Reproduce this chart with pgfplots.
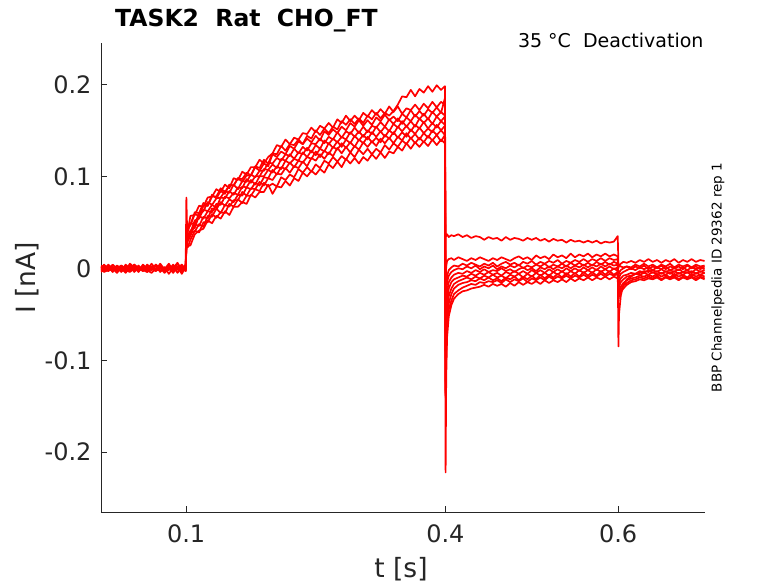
\documentclass[border=0pt]{standalone}
\usepackage{fontspec}
\setmainfont{DejaVu Sans}
\usepackage{pgfplots}
\usepackage{pgfplotstable}
\pgfplotsset{compat=1.18}
\definecolor{mtext}{RGB}{38,38,38}
\definecolor{mred}{RGB}{255,0,0}
\tikzset{trace/.style={mred, solid, line width=1.7pt, line join=round, mark=none}}
% t in ms, currents in pA
\pgfplotstableread{
t T1 T2 T3 T4 T5 T6 T7 T8 T9 T10
1.5 2 -1 -3 1 3 -4 0 2 -2 -1
5 -2 3 0 -3 1 -1 4 -2 1 -4
10 1 -2 2 4 -1 -3 -1 0 3 -2
15 -3 0 -4 -1 4 0 2 -3 -1 1
20 3 2 1 -2 0 -5 -2 1 2 -3
25 0 -3 -2 2 3 1 3 -4 -3 0
30 -1 4 -1 -4 -2 -2 0 2 1 -5
35 2 0 3 1 5 -4 -3 -1 -2 2
40 -4 -1 -2 3 1 0 4 1 4 -3
45 1 3 0 -2 -3 -3 -1 -4 0 1
50 -2 -3 2 0 4 1 2 3 -3 -2
55 4 1 -4 -3 0 -2 -2 0 2 -4
60 0 -2 1 2 2 -5 5 -2 -1 0
65 -3 4 -1 -1 -2 0 -1 4 3 -3
70 2 0 3 4 5 -3 1 -3 -4 1
75 -1 -4 -2 -2 -1 1 -3 1 1 -5
80 5 2 1 1 3 -6 3 -1 -2 0
85 -2 -1 -5 -4 0 0 -2 3 4 -3
90 1 5 2 2 6 -4 0 -5 -1 2
95 -4 -2 -1 -1 -2 2 4 1 2 -6
99.5 3 1 4 0 2 -3 -1 -2 -3 1
100.3 33 31 77 32 28 28 24 25 25 20
101 36 40 48 32 34 29 29 24 24 24
102 44 41 44 40 34 36 30 30 23 24
105 47 57 47 49 39 41 35 39 31 25
110 61 58 59 48 52 44 48 40 41 37
115 60 68 57 60 54 57 46 48 39 41
120 71 67 68 62 64 54 56 45 50 43
125 68 77 68 72 62 62 54 57 50 52
130 78 78 80 69 69 61 65 56 59 49
135 78 86 76 76 66 70 64 65 55 57
140 87 83 84 77 77 69 72 60 61 54
145 83 91 81 84 76 78 68 69 60 62
150 90 87 91 82 84 76 75 67 70 58
155 90 98 90 91 80 82 72 74 67 67
160 98 96 98 86 88 80 80 74 75 67
165 97 105 94 95 87 89 79 83 71 72
170 104 102 101 94 97 88 88 79 79 70
175 101 110 101 102 93 96 86 87 79 80
180 111 110 110 99 100 91 93 86 86 77
185 109 118 106 106 100 100 90 94 84 83
190 118 114 114 106 108 100 99 90 93 83
195 114 121 111 115 107 107 98 98 89 91
200 125 125 124 114 113 104 107 96 92 81
205 124 134 121 120 109 111 102 103 89 89
210 133 132 127 117 119 108 110 102 99 88
215 128 140 124 124 117 117 108 109 96 95
220 135 135 133 122 124 114 115 104 102 90
225 134 142 130 130 119 119 110 111 99 98
230 140 140 138 125 126 117 117 109 108 95
235 135 147 135 132 124 126 115 116 104 104
240 144 146 141 128 131 121 121 111 110 100
245 141 153 137 136 126 128 119 120 105 106
250 150 148 144 135 134 123 127 117 113 102
255 145 155 139 141 130 130 121 124 109 108
260 152 152 149 136 139 127 128 119 117 104
265 147 158 145 143 135 136 124 126 114 113
270 154 153 151 140 141 131 132 122 121 109
275 151 162 147 148 137 138 129 131 116 116
280 160 158 154 142 143 132 136 125 122 110
285 156 166 150 149 140 140 131 132 118 119
290 162 160 158 146 148 136 137 126 126 114
295 157 166 154 153 143 144 132 133 121 120
300 163 161 161 147 149 139 140 129 129 114
305 158 169 155 154 143 145 136 137 124 121
310 166 165 161 148 150 140 143 132 130 117
315 162 172 156 155 146 148 137 138 124 124
320 169 167 164 153 154 143 142 133 130 119
325 163 173 160 159 148 149 137 141 126 126
330 169 168 167 154 154 143 145 136 134 120
335 166 176 161 162 149 150 141 142 129 127
340 171 170 165 157 157 146 148 136 136 125
345 178 176 160 163 153 154 142 143 132 132
350 187 168 168 157 160 149 148 139 139 128
355 186 174 164 164 154 155 143 147 135 136
360 194 172 172 160 160 149 151 141 142 130
365 187 178 165 167 154 156 146 146 136 137
370 195 172 171 162 163 152 153 140 142 132
375 191 179 166 168 158 159 147 147 137 138
380 198 174 173 162 163 152 152 142 144 133
385 192 181 169 170 157 158 148 150 139 140
390 199 175 175 165 165 153 156 145 145 134
395 194 181 169 170 160 160 150 150 138 140
399.5 198 178 185 166 165 156 155 145 145 136
400.3 36 -20 -50 -70 -100 -125 -135 -138 -141 -222
401 35 2 -20 -30 -45 -60 -75 -85 -95 -120
402 37 8 -8 -15 -25 -35 -45 -55 -65 -75
404 34 10 -2 -8 -15 -22 -30 -38 -45 -52
407 36 11 1 -4 -10 -15 -22 -28 -35 -40
410 35 9 3 -2 -7 -12 -17 -22 -28 -33
415 37 12 2 0 -5 -10 -14 -18 -24 -28
420 34 10 5 -1 -6 -8 -12 -16 -21 -25
425 36 8 3 2 -3 -9 -10 -15 -19 -24
430 33 11 6 0 -5 -6 -12 -13 -17 -22
435 35 9 4 3 -2 -8 -9 -14 -18 -21
440 34 12 2 -1 -4 -5 -11 -11 -15 -20
445 31 10 5 2 -1 -7 -8 -13 -16 -18
450 34 8 3 0 -4 -4 -10 -10 -14 -20
455 32 11 6 3 -2 -7 -7 -13 -15 -17
460 33 9 2 -1 -3 -5 -10 -11 -13 -19
465 30 12 5 2 0 -8 -8 -14 -16 -17
470 34 10 7 0 -3 -4 -11 -10 -12 -20
475 31 8 4 3 -1 -6 -7 -12 -15 -16
480 33 11 6 1 -4 -3 -9 -9 -12 -19
485 32 13 3 4 -1 -6 -6 -13 -14 -15
490 30 10 7 0 1 -3 -10 -9 -11 -18
495 33 12 5 3 -2 -6 -6 -12 -15 -15
500 31 9 8 1 0 -2 -9 -8 -11 -17
505 33 14 4 4 -3 -5 -5 -12 -13 -14
510 30 11 7 2 1 -2 -8 -7 -10 -17
515 32 13 5 5 -1 -5 -5 -11 -13 -13
520 29 10 8 1 2 -1 -8 -7 -9 -16
525 32 15 6 4 -1 -4 -4 -10 -12 -13
530 30 12 9 2 2 -1 -7 -6 -9 -15
535 31 14 5 5 0 -4 -3 -10 -11 -12
540 28 11 8 2 3 0 -7 -5 -8 -15
545 31 16 6 6 0 -3 -3 -9 -11 -11
550 29 12 9 3 3 0 -6 -5 -8 -14
555 30 15 7 6 1 -3 -2 -9 -10 -11
560 28 13 10 3 4 1 -5 -4 -7 -13
565 30 16 7 6 1 -2 -2 -8 -10 -10
570 28 12 10 3 4 1 -5 -4 -7 -13
575 30 15 8 7 2 -2 -1 -8 -9 -10
580 27 13 11 4 5 2 -4 -3 -6 -12
585 29 16 8 7 2 -1 -1 -7 -9 -9
590 28 13 11 4 5 2 -4 -3 -6 -12
595 29 15 9 7 3 -1 0 -7 -8 -9
599.5 35 13 10 5 4 1 -3 -4 -6 -11
600.3 5 0 -10 -15 -85 -20 -25 -30 -33 -35
601 3 3 -5 -10 -50 -15 -20 -25 -28 -30
603 2 5 -2 -6 -30 -11 -15 -20 -23 -26
606 1 7 0 -4 -18 -8 -12 -16 -19 -22
610 2 6 2 -2 -12 -7 -9 -13 -16 -18
615 -1 8 1 0 -9 -5 -8 -11 -13 -15
620 2 6 4 -2 -6 -6 -6 -10 -12 -14
625 0 9 2 1 -5 -3 -7 -8 -10 -12
630 3 7 5 -1 -3 -5 -5 -9 -11 -13
635 -1 10 2 1 -4 -2 -7 -7 -9 -11
640 2 7 4 -2 -2 -5 -4 -9 -11 -12
645 0 9 1 1 -4 -3 -7 -6 -8 -10
650 3 6 4 -1 -1 -6 -5 -9 -12 -13
655 -1 9 2 2 -4 -3 -7 -7 -9 -10
660 2 7 5 -2 -2 -6 -4 -10 -11 -12
665 0 10 1 0 -4 -3 -8 -6 -8 -10
670 2 6 4 -2 -1 -6 -5 -9 -12 -13
675 -1 9 2 1 -4 -4 -7 -7 -9 -10
680 3 7 4 -2 -2 -5 -4 -10 -11 -12
685 0 10 1 1 -5 -3 -8 -6 -9 -10
690 2 7 4 -1 -1 -6 -5 -9 -11 -13
695 -1 9 2 1 -4 -3 -7 -7 -9 -10
700 2 8 3 -1 -2 -5 -5 -9 -11 -12
}\data
\begin{document}
\begin{tikzpicture}
\path[use as bounding box] (-101pt,-71pt) rectangle (677pt,512pt);
\begin{axis}[
  scale only axis, width=604pt, height=469pt,
  xmin=1.5, xmax=700.5, ymin=-265, ymax=245,
  axis lines*=left,
  axis line style={-, draw=mtext, line width=0.6pt},
  tick align=inside, major tick length=6pt,
  major tick style={draw=mtext, line width=0.6pt},
  xtick={100,400,600}, xticklabels={0.1,0.4,0.6},
  ytick={-200,-100,0,100,200},
  yticklabels={-0.2,-0.1,0\hspace{0.954em},0.1\hspace{0.318em},0.2\hspace{0.318em}},
  ticklabel style={font=\fontsize{24}{28}\selectfont, text=mtext, inner sep=0pt},
  xticklabel style={anchor=base, yshift=-30.3pt},
  yticklabel style={anchor=east, xshift=-9.3pt},
]
\addplot[trace] table[x=t,y=T10]{\data};
\addplot[trace] table[x=t,y=T9]{\data};
\addplot[trace] table[x=t,y=T8]{\data};
\addplot[trace] table[x=t,y=T7]{\data};
\addplot[trace] table[x=t,y=T6]{\data};
\addplot[trace] table[x=t,y=T5]{\data};
\addplot[trace] table[x=t,y=T4]{\data};
\addplot[trace] table[x=t,y=T3]{\data};
\addplot[trace] table[x=t,y=T2]{\data};
\addplot[trace] table[x=t,y=T1]{\data};
\end{axis}
\node[anchor=base west, inner sep=0pt, font=\fontsize{23.5}{28}\selectfont\bfseries] at (14pt,485.3pt) {TASK2\hspace{0.348em} Rat\hspace{0.348em} CHO\_FT};
\node[anchor=base east, inner sep=0pt, font=\fontsize{19}{23}\selectfont] at (602.7pt,464.3pt) {35 °C\hspace{0.318em} Deactivation};
\node[rotate=90, anchor=base, inner sep=0pt, font=\fontsize{13.5}{16}\selectfont] at (620.7pt,234.5pt) {BBP Channelpedia ID 29362 rep 1};
\node[rotate=90, anchor=base, inner sep=0pt, text=mtext, font=\fontsize{26.5}{30}\selectfont] at (-65pt,234pt) {I [nA]};
\node[anchor=base, inner sep=0pt, text=mtext, font=\fontsize{26.5}{30}\selectfont] at (300pt,-65.5pt) {t [s]};
\end{tikzpicture}
\end{document}
